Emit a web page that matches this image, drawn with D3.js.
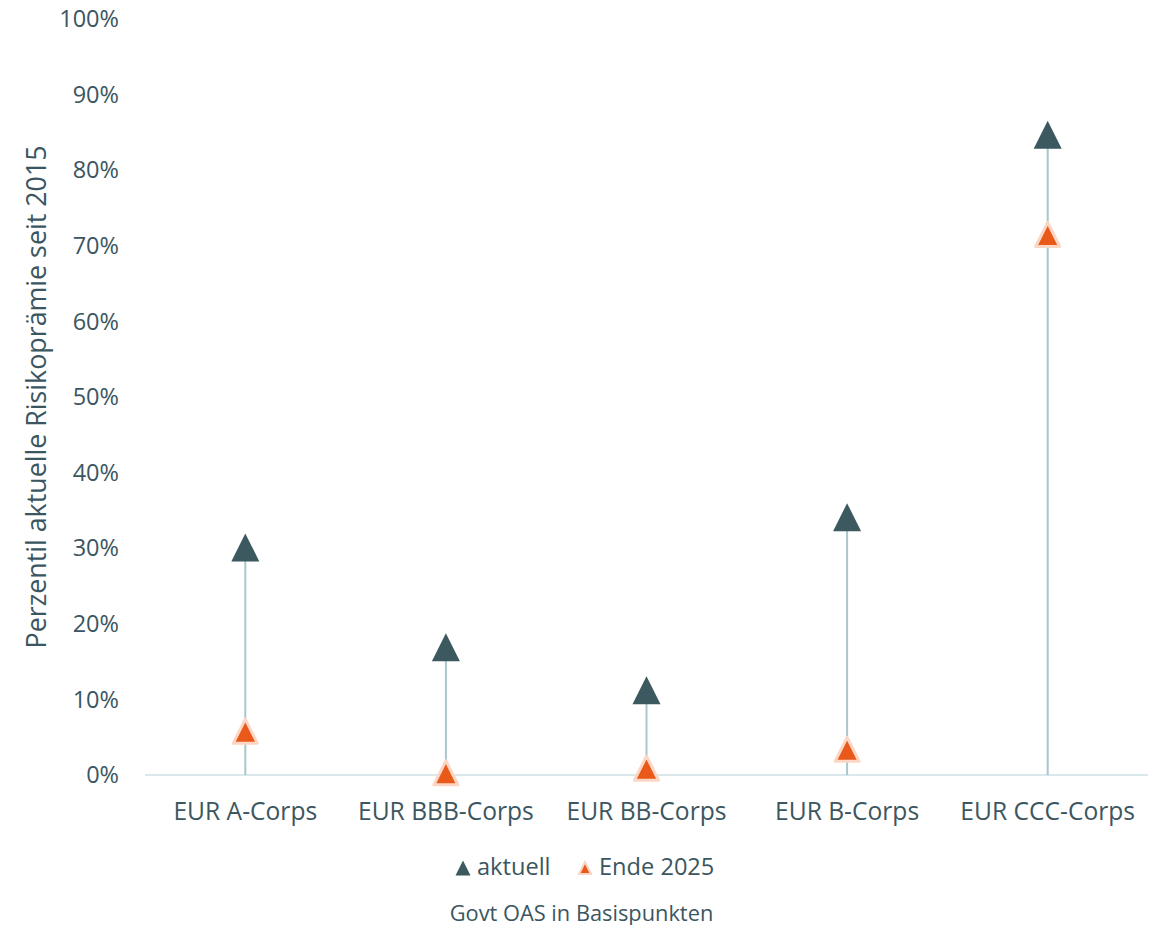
<!DOCTYPE html>
<html><head><meta charset="utf-8">
<script src="https://cdn.jsdelivr.net/npm/d3@7"></script>
<style>body{margin:0;background:#fff}svg{display:block;font-family:"Open Sans",sans-serif}</style>
</head><body><svg id="c" width="1161" height="925"></svg>
<script>
const categories = ["EUR A-Corps","EUR BBB-Corps","EUR BB-Corps","EUR B-Corps","EUR CCC-Corps"];
const aktuell = [30.1, 16.9, 11.2, 34.1, 84.7];
const ende2025 = [5.8, 0.3, 0.9, 3.4, 71.5];
const yTicks = [0,10,20,30,40,50,60,70,80,90,100];
const seriesNames = ["aktuell","Ende 2025"];

const textCol = "#3b5660", darkCol = "#3d5960", orangeCol = "#e8591a", haloCol = "#fcd6c4";
const svg = d3.select("#c");
const x = d3.scaleBand().domain(categories).range([145,1148]);
const y = d3.scaleLinear().domain([0,100]).range([775,19]);

// y tick labels
svg.append("g").selectAll("text").data(yTicks).join("text")
  .attr("x",119).attr("y",d=>y(d)).attr("dy","0.35em").attr("text-anchor","end")
  .attr("font-size",23.5).attr("fill",textCol).text(d=>d+"%");

// baseline
svg.append("line").attr("x1",145).attr("x2",1148).attr("y1",y(0)).attr("y2",y(0))
  .attr("stroke","#dbe8eb").attr("stroke-width",2);

// y title
svg.append("text").attr("transform",`translate(46,${(y(0)+y(100))/2}) rotate(-90)`)
  .attr("text-anchor","middle").attr("font-size",26.8).attr("fill",textCol)
  .text("Perzentil aktuelle Risikoprämie seit 2015");

// x labels
svg.append("g").selectAll("text").data(categories).join("text")
  .attr("x",d=>x(d)+x.bandwidth()/2).attr("y",820).attr("text-anchor","middle")
  .attr("font-size",24.6).attr("fill",textCol).text(d=>d);

const cx = i => x(categories[i]) + x.bandwidth()/2;
// stems
svg.append("g").selectAll("line").data(aktuell).join("line")
  .attr("x1",(d,i)=>cx(i)).attr("x2",(d,i)=>cx(i))
  .attr("y1",y(0)).attr("y2",d=>y(d))
  .attr("stroke","#a9c6cb").attr("stroke-width",2);

function tri(px,py,r){return `M${px},${py-r}L${px+r},${py+r}L${px-r},${py+r}Z`;}

svg.append("g").selectAll("path").data(ende2025).join("path")
  .attr("d",(d,i)=>tri(cx(i),y(d),12))
  .attr("fill",orangeCol).attr("stroke",haloCol).attr("stroke-width",3).attr("stroke-linejoin","round");
svg.append("g").selectAll("path").data(aktuell).join("path")
  .attr("d",(d,i)=>tri(cx(i),y(d),14)).attr("fill",darkCol);

// legend
const lg = svg.append("g");
lg.append("path").attr("d",tri(463,868,7.5)).attr("fill",darkCol);
lg.append("text").attr("x",477).attr("y",874.5).attr("font-size",23.6).attr("fill",textCol).text(seriesNames[0]);
lg.append("path").attr("d",tri(585,868,6)).attr("fill",orangeCol).attr("stroke",haloCol).attr("stroke-width",2);
lg.append("text").attr("x",599).attr("y",874.5).attr("font-size",23.6).attr("fill",textCol).text(seriesNames[1]);

svg.append("text").attr("x",581.5).attr("y",920.5).attr("text-anchor","middle")
  .attr("font-size",21.8).attr("fill",textCol).text("Govt OAS in Basispunkten");
</script></body></html>
